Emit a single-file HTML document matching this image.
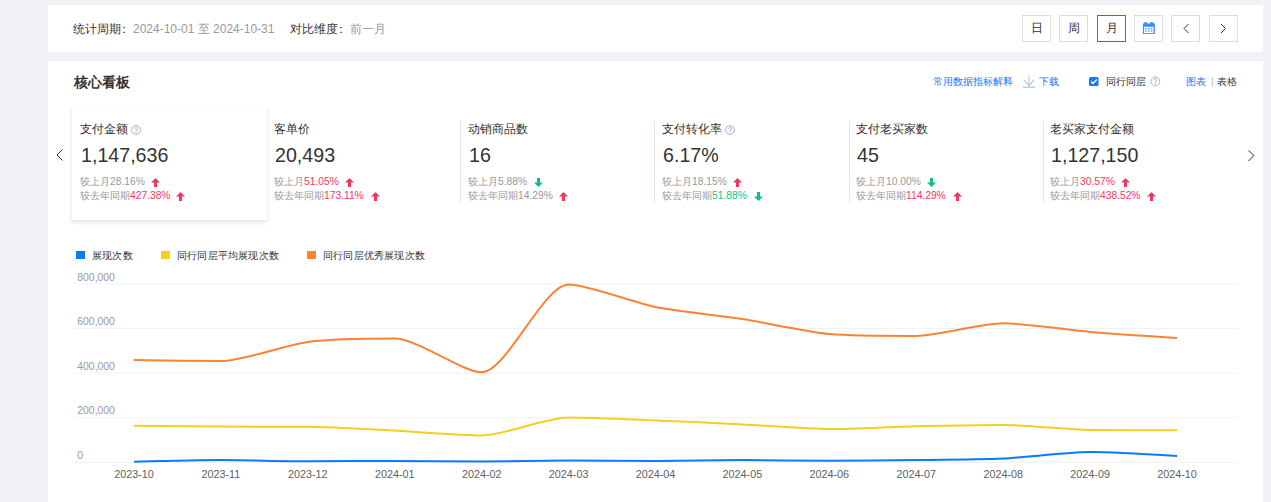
<!DOCTYPE html>
<html><head><meta charset="utf-8">
<style>
*{box-sizing:border-box;margin:0;padding:0}
html,body{width:1271px;height:502px;overflow:hidden}
body{background:#f0f2f7;position:relative;font-family:"Liberation Sans",sans-serif;color:#333;}
.a{position:absolute;white-space:nowrap;line-height:1}
.panel{position:absolute;background:#fff;left:48px;width:1215px}
.btn{position:absolute;top:15px;width:29px;height:27px;border:1px solid #dcdcdc;background:#fff;font-size:12px;text-align:center;line-height:25px;color:#333}
.btn.on{border-color:#1677ff}
.gray{color:#999}
.blue{color:#1677ff}
.red{color:#f0385e}
.green{color:#0fbd93}
.lbl{font-size:12px;color:#333}
.num{font-size:21px;color:#333;transform:scaleX(0.935);transform-origin:0 0}
.cmp{font-size:10.25px;color:#999;line-height:14px}
.sep{position:absolute;top:121px;width:1px;height:82px;background:#dde6ef}
</style></head><body>
<div class="panel" style="top:5px;height:47px"></div>
<div class="panel" style="top:60px;height:1px;background:#eceef4"></div>
<div class="panel" style="top:61px;height:441px"></div>

<div class="a" style="left:73px;top:22.8px;font-size:12px">统计周期<span style="position:relative;left:-3px;top:-0.3px">：</span><span class="gray">2024-10-01 至 2024-10-31</span></div>
<div class="a" style="left:290px;top:22.8px;font-size:12px">对比维度<span style="position:relative;left:-3px;top:-0.3px">：</span><span class="gray">前一月</span></div>

<div class="btn" style="left:1022px">日</div>
<div class="btn" style="left:1059px">周</div>
<div class="btn on" style="left:1097px">月</div>
<div class="btn" style="left:1134px"><svg width="27" height="25" viewBox="0 0 27 25" style="display:block"><g fill="#3d8bff"><rect x="7.9" y="7.4" width="12" height="10.5"/><rect x="9.4" y="6" width="2.4" height="2"/><rect x="15.5" y="6" width="2.4" height="2"/></g><rect x="9.1" y="10.8" width="9.4" height="6.2" fill="#fff"/><g fill="#4a90ff"><rect x="10.1" y="12.1" width="1.5" height="1.4"/><rect x="13" y="12.1" width="1.5" height="1.4"/><rect x="15.8" y="12.1" width="1.5" height="1.4"/><rect x="10.1" y="14.4" width="1.5" height="1.3"/><rect x="13" y="14.4" width="1.5" height="1.3"/><rect x="15.8" y="14.4" width="1.5" height="1.3"/></g></svg></div>
<div class="btn" style="left:1171px"><svg width="27" height="25" viewBox="0 0 27 25" style="display:block"><path d="M16.5 8 L12 12.5 L16.5 17" fill="none" stroke="#333" stroke-width="1"/></svg></div>
<div class="btn" style="left:1209px"><svg width="27" height="25" viewBox="0 0 27 25" style="display:block"><path d="M11 8 L15.5 12.5 L11 17" fill="none" stroke="#333" stroke-width="1"/></svg></div>

<div class="a" style="left:73.5px;top:75.5px;font-size:13.6px;font-weight:bold">核心看板</div>
<div class="a blue" style="left:932.5px;top:77px;font-size:10px;letter-spacing:0.1px">常用数据指标解释</div>
<svg class="a" style="left:1022px;top:75px" width="14" height="14" viewBox="0 0 14 14"><g fill="none" stroke="#b9c9dc" stroke-width="1.2"><path d="M7 0.5V11"/><path d="M2 5L7 10.5L12 5"/></g><rect x="1" y="11.5" width="12" height="1.4" fill="#b9c9dc"/></svg>
<div class="a blue" style="left:1039px;top:77px;font-size:10px">下载</div>
<svg class="a" style="left:1089px;top:77px" width="10" height="10" viewBox="0 0 10 10"><rect x="0" y="0" width="9.5" height="9" rx="1.5" fill="#1677ff"/><path d="M2 4.5L4 6.5L7.8 2.5" fill="none" stroke="#fff" stroke-width="1.3"/></svg>
<div class="a" style="left:1106px;top:77px;font-size:10px">同行同层</div>
<svg class="a" style="left:1150px;top:76px" width="11" height="11" viewBox="0 0 11 11"><circle cx="5.3" cy="5.3" r="4.4" fill="none" stroke="#9aaac8" stroke-width="0.9"/><path d="M3.8 4.2 Q3.8 2.8 5.3 2.8 Q6.8 2.8 6.8 4.1 Q6.8 5 5.3 5.5 V6.6" fill="none" stroke="#9aaac8" stroke-width="0.9"/><rect x="4.9" y="7.3" width="0.9" height="0.9" fill="#9aaac8"/></svg>
<div class="a blue" style="left:1186px;top:77px;font-size:10px">图表</div>
<div class="a" style="left:1211px;top:77px;font-size:10px;color:#bbb">|</div>
<div class="a" style="left:1217px;top:77px;font-size:10px">表格</div>

<!-- nav arrows -->
<svg class="a" style="left:52px;top:146px" width="14" height="18" viewBox="0 0 14 18"><path d="M10.5 3.5L5 9L10.5 14.5" fill="none" stroke="#333" stroke-width="1"/></svg>
<svg class="a" style="left:1244px;top:146px" width="14" height="18" viewBox="0 0 14 18"><path d="M4.5 4.5L10 9.5L4.5 15" fill="none" stroke="#333" stroke-width="1"/></svg>

<!-- selected card -->
<div class="a" style="left:72px;top:106px;width:195px;height:114px;background:#fff;box-shadow:0 2px 4px rgba(10,80,150,0.17)"></div>
<div class="sep" style="left:460px"></div>
<div class="sep" style="left:654px"></div>
<div class="sep" style="left:849px"></div>
<div class="sep" style="left:1043px"></div>

<!-- card 1 -->
<div class="a lbl" style="left:80px;top:123px">支付金额</div>
<svg class="a" style="left:131px;top:125px" width="11" height="11" viewBox="0 0 11 11"><circle cx="5" cy="5" r="4.4" fill="none" stroke="#9aaac8" stroke-width="0.9"/><path d="M3.5 3.9 Q3.5 2.5 5 2.5 Q6.5 2.5 6.5 3.8 Q6.5 4.7 5 5.2 V6.3" fill="none" stroke="#9aaac8" stroke-width="0.9"/><rect x="4.6" y="7" width="0.9" height="0.9" fill="#9aaac8"/></svg>
<div class="a num" style="left:81px;top:144px">1,147,636</div>
<div class="a cmp" style="left:80px;top:175px">较上月28.16%</div>
<div class="a cmp" style="left:80px;top:189px">较去年同期<span class="red">427.38%</span></div>

<!-- card 2 -->
<div class="a lbl" style="left:274px;top:123px">客单价</div>
<div class="a num" style="left:275px;top:144px">20,493</div>
<div class="a cmp" style="left:274px;top:175px">较上月<span class="red">51.05%</span></div>
<div class="a cmp" style="left:274px;top:189px">较去年同期<span class="red">173.11%</span></div>

<!-- card 3 -->
<div class="a lbl" style="left:468px;top:123px">动销商品数</div>
<div class="a num" style="left:469px;top:144px">16</div>
<div class="a cmp" style="left:468px;top:175px">较上月5.88%</div>
<div class="a cmp" style="left:468px;top:189px">较去年同期14.29%</div>

<!-- card 4 -->
<div class="a lbl" style="left:662px;top:123px">支付转化率</div>
<svg class="a" style="left:725px;top:125px" width="11" height="11" viewBox="0 0 11 11"><circle cx="5" cy="5" r="4.4" fill="none" stroke="#9aaac8" stroke-width="0.9"/><path d="M3.5 3.9 Q3.5 2.5 5 2.5 Q6.5 2.5 6.5 3.8 Q6.5 4.7 5 5.2 V6.3" fill="none" stroke="#9aaac8" stroke-width="0.9"/><rect x="4.6" y="7" width="0.9" height="0.9" fill="#9aaac8"/></svg>
<div class="a num" style="left:663px;top:144px">6.17%</div>
<div class="a cmp" style="left:662px;top:175px">较上月18.15%</div>
<div class="a cmp" style="left:662px;top:189px">较去年同期<span class="green">51.88%</span></div>

<!-- card 5 -->
<div class="a lbl" style="left:856px;top:123px">支付老买家数</div>
<div class="a num" style="left:857px;top:144px">45</div>
<div class="a cmp" style="left:856px;top:175px">较上月10.00%</div>
<div class="a cmp" style="left:856px;top:189px">较去年同期<span class="red">114.29%</span></div>

<!-- card 6 -->
<div class="a lbl" style="left:1050px;top:123px">老买家支付金额</div>
<div class="a num" style="left:1051px;top:144px">1,127,150</div>
<div class="a cmp" style="left:1050px;top:175px">较上月<span class="red">30.57%</span></div>
<div class="a cmp" style="left:1050px;top:189px">较去年同期<span class="red">438.52%</span></div>

<!-- arrows -->
<svg width="0" height="0" style="position:absolute"><defs>
<path id="up" d="M4.5 0L9 4.5H6V9H3V4.5H0Z" fill="#f0385e"/>
<path id="dn" d="M3 0H6V4.5H9L4.5 9L0 4.5H3Z" fill="#0fbd93"/>
</defs></svg>
<svg class="a" style="left:151px;top:178px" width="9" height="9"><use href="#up"/></svg>
<svg class="a" style="left:176px;top:192px" width="9" height="9"><use href="#up"/></svg>
<svg class="a" style="left:345px;top:178px" width="9" height="9"><use href="#up"/></svg>
<svg class="a" style="left:371px;top:192px" width="9" height="9"><use href="#up"/></svg>
<svg class="a" style="left:534px;top:178px" width="9" height="9"><use href="#dn"/></svg>
<svg class="a" style="left:559px;top:192px" width="9" height="9"><use href="#up"/></svg>
<svg class="a" style="left:733px;top:178px" width="9" height="9"><use href="#up"/></svg>
<svg class="a" style="left:754px;top:192px" width="9" height="9"><use href="#dn"/></svg>
<svg class="a" style="left:927px;top:178px" width="9" height="9"><use href="#dn"/></svg>
<svg class="a" style="left:953px;top:192px" width="9" height="9"><use href="#up"/></svg>
<svg class="a" style="left:1121px;top:178px" width="9" height="9"><use href="#up"/></svg>
<svg class="a" style="left:1147px;top:192px" width="9" height="9"><use href="#up"/></svg>

<!-- chart -->
<svg class="a" style="left:0;top:0" width="1271" height="502" viewBox="0 0 1271 502">
<g fill="none" stroke="#eef1f6" stroke-width="1">
<path d="M74 283.9H1238"/><path d="M74 328.5H1238"/><path d="M74 373.1H1238"/><path d="M74 417.7H1238"/><path d="M74 462.3H1238"/>
</g>
<rect x="76" y="251" width="9" height="8" fill="#0a7bff"/>
<rect x="161" y="251" width="9" height="8" fill="#f2cf22"/>
<rect x="307" y="251" width="9" height="8" fill="#ff8232"/>
<g font-family="Liberation Sans, sans-serif" font-size="10" fill="#333" letter-spacing="0.2">
<text x="92" y="258.5">展现次数</text>
<text x="177" y="258.5">同行同层平均展现次数</text>
<text x="323" y="258.5">同行同层优秀展现次数</text>
</g>
<g font-family="Liberation Sans, sans-serif" font-size="10.4" fill="#999">
<text x="77.3" y="280.8">800,000</text>
<text x="77.3" y="325.1">600,000</text>
<text x="77.3" y="369.8">400,000</text>
<text x="77.3" y="414.1">200,000</text>
<text x="77.3" y="458.9">0</text>
</g>
<g font-family="Liberation Sans, sans-serif" font-size="10.8" fill="#606060">
<text x="134.0" y="478" text-anchor="middle">2023-10</text><text x="220.9" y="478" text-anchor="middle">2023-11</text><text x="307.8" y="478" text-anchor="middle">2023-12</text><text x="394.8" y="478" text-anchor="middle">2024-01</text><text x="481.7" y="478" text-anchor="middle">2024-02</text><text x="568.6" y="478" text-anchor="middle">2024-03</text><text x="655.5" y="478" text-anchor="middle">2024-04</text><text x="742.4" y="478" text-anchor="middle">2024-05</text><text x="829.3" y="478" text-anchor="middle">2024-06</text><text x="916.2" y="478" text-anchor="middle">2024-07</text><text x="1003.2" y="478" text-anchor="middle">2024-08</text><text x="1090.1" y="478" text-anchor="middle">2024-09</text><text x="1177.0" y="478" text-anchor="middle">2024-10</text>
</g>
<path d="M134.00,425.80 C134.00,425.80 199.19,426.47 220.92,426.60 C242.65,426.72 286.11,426.60 307.83,426.80 C329.57,427.00 373.03,429.53 394.75,430.60 C416.49,431.68 460.14,435.40 481.67,435.40 C503.60,435.40 546.64,417.60 568.58,417.60 C590.10,417.60 633.78,419.65 655.50,420.50 C677.23,421.35 720.69,423.33 742.42,424.40 C764.15,425.48 807.59,429.10 829.33,429.10 C851.05,429.10 894.52,426.70 916.25,426.20 C937.97,425.70 981.45,425.10 1003.17,425.10 C1024.91,425.10 1068.34,429.60 1090.08,429.90 C1111.80,430.20 1177.00,430.20 1177.00,430.20" fill="none" stroke="#f2cf22" stroke-width="2"/>
<path d="M134.00,360.00 C134.00,360.00 199.44,361.00 220.92,361.00 C242.90,361.00 285.86,344.83 307.83,342.00 C329.32,339.23 373.77,338.60 394.75,338.60 C417.23,338.60 462.98,372.30 481.67,372.30 C506.44,372.30 543.42,284.50 568.58,284.50 C586.87,284.50 633.52,302.63 655.50,307.00 C676.98,311.28 720.74,315.73 742.42,319.10 C764.20,322.48 807.45,332.07 829.33,334.00 C850.91,335.90 894.63,335.90 916.25,335.90 C938.09,335.90 981.38,323.30 1003.17,323.30 C1024.84,323.30 1068.33,330.06 1090.08,331.90 C1111.79,333.74 1177.00,338.00 1177.00,338.00" fill="none" stroke="#ff8232" stroke-width="2"/>
<path d="M134.00,461.70 C134.00,461.70 199.19,460.10 220.92,460.10 C242.65,460.10 286.10,461.30 307.83,461.30 C329.56,461.30 373.02,460.90 394.75,460.90 C416.48,460.90 459.94,461.60 481.67,461.60 C503.40,461.60 546.85,460.60 568.58,460.60 C590.31,460.60 633.77,461.00 655.50,461.00 C677.23,461.00 720.69,460.10 742.42,460.10 C764.15,460.10 807.60,460.70 829.33,460.70 C851.06,460.70 894.52,460.37 916.25,460.10 C937.98,459.82 981.47,459.50 1003.17,458.50 C1024.92,457.50 1068.34,452.10 1090.08,452.10 C1111.79,452.10 1177.00,456.00 1177.00,456.00" fill="none" stroke="#0a7bff" stroke-width="2"/>
</svg>
</body></html>
